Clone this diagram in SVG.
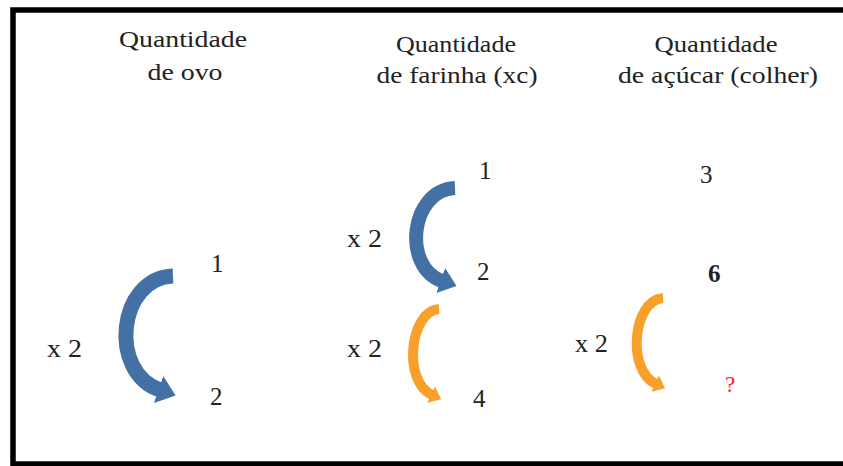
<svg xmlns="http://www.w3.org/2000/svg" width="843" height="466" viewBox="0 0 843 466" font-family="'Liberation Serif', Tinos, 'Times New Roman', serif">
<defs>
<style>
text{font-family:'Liberation Serif', Tinos, 'Times New Roman', serif;fill:#222;}
.t{font-size:24px;text-anchor:middle;}
.n{font-size:25px;}
.blue{fill:none;stroke:#4371A6;}
.orange{fill:none;stroke:#F8A02A;}
</style>
<marker id="hb" markerUnits="strokeWidth" markerWidth="1.2" markerHeight="1.9" viewBox="0 0 12 19" refX="1" refY="9.5" orient="auto">
<path d="M0,0 L12,9.5 L0,19 z" fill="#4371A6"/>
</marker>
<marker id="ho" markerUnits="strokeWidth" markerWidth="1.1" markerHeight="1.8" viewBox="0 0 11 18" refX="1" refY="9" orient="auto">
<path d="M0,0 L11,9 L0,18 z" fill="#F8A02A"/>
</marker>
</defs>
<rect x="13" y="10" width="850" height="454" fill="#fff" stroke="#000" stroke-width="5.5"/>

<g id="col-ovo">
<text class="t" x="183" y="47" textLength="128" lengthAdjust="spacingAndGlyphs">Quantidade</text>
<text class="t" x="185" y="80" textLength="75" lengthAdjust="spacingAndGlyphs">de ovo</text>
</g>
<g id="col-farinha">
<text class="t" x="456" y="52" textLength="120" lengthAdjust="spacingAndGlyphs">Quantidade</text>
<text class="t" x="457" y="83" textLength="161" lengthAdjust="spacingAndGlyphs">de farinha (xc)</text>
</g>
<g id="col-acucar">
<text class="t" x="716" y="52" textLength="123" lengthAdjust="spacingAndGlyphs">Quantidade</text>
<text class="t" x="718" y="83" textLength="200" lengthAdjust="spacingAndGlyphs">de açúcar (colher)</text>
</g>

<g id="ovo-1"><text class="n" x="211" y="272">1</text></g>
<g id="ovo-2"><text class="n" x="210" y="405">2</text></g>
<g id="ovo-x2"><text class="n" x="47" y="357" textLength="35" lengthAdjust="spacingAndGlyphs">x 2</text></g>

<g id="farinha-1"><text class="n" x="479" y="179">1</text></g>
<g id="farinha-2"><text class="n" x="477" y="280">2</text></g>
<g id="farinha-4"><text class="n" x="473" y="407">4</text></g>
<g id="farinha-x2a"><text class="n" x="347" y="247" textLength="35" lengthAdjust="spacingAndGlyphs">x 2</text></g>
<g id="farinha-x2b"><text class="n" x="347" y="357" textLength="35" lengthAdjust="spacingAndGlyphs">x 2</text></g>

<g id="acucar-3"><text class="n" x="700" y="183">3</text></g>
<g id="acucar-6"><text class="n" x="708" y="282" font-weight="bold">6</text></g>
<g id="acucar-q"><text x="725" y="392" font-size="23" style="fill:#FF1A1A">?</text></g>
<g id="acucar-x2"><text class="n" x="575" y="352" textLength="33" lengthAdjust="spacingAndGlyphs">x 2</text></g>

<g id="connectors">
<path class="blue" stroke-width="15" d="M173 276 C118 278,108 372,160 390" marker-end="url(#hb)"/>
<path class="blue" stroke-width="14" d="M455 188 C410 190,402 267,442 281" marker-end="url(#hb)"/>
<path class="orange" stroke-width="10" d="M439 309 C410 311,402 381,432 395" marker-end="url(#ho)"/>
<path class="orange" stroke-width="10" d="M663 298 C633 300,626 370,656 384" marker-end="url(#ho)"/>
</g>
</svg>
